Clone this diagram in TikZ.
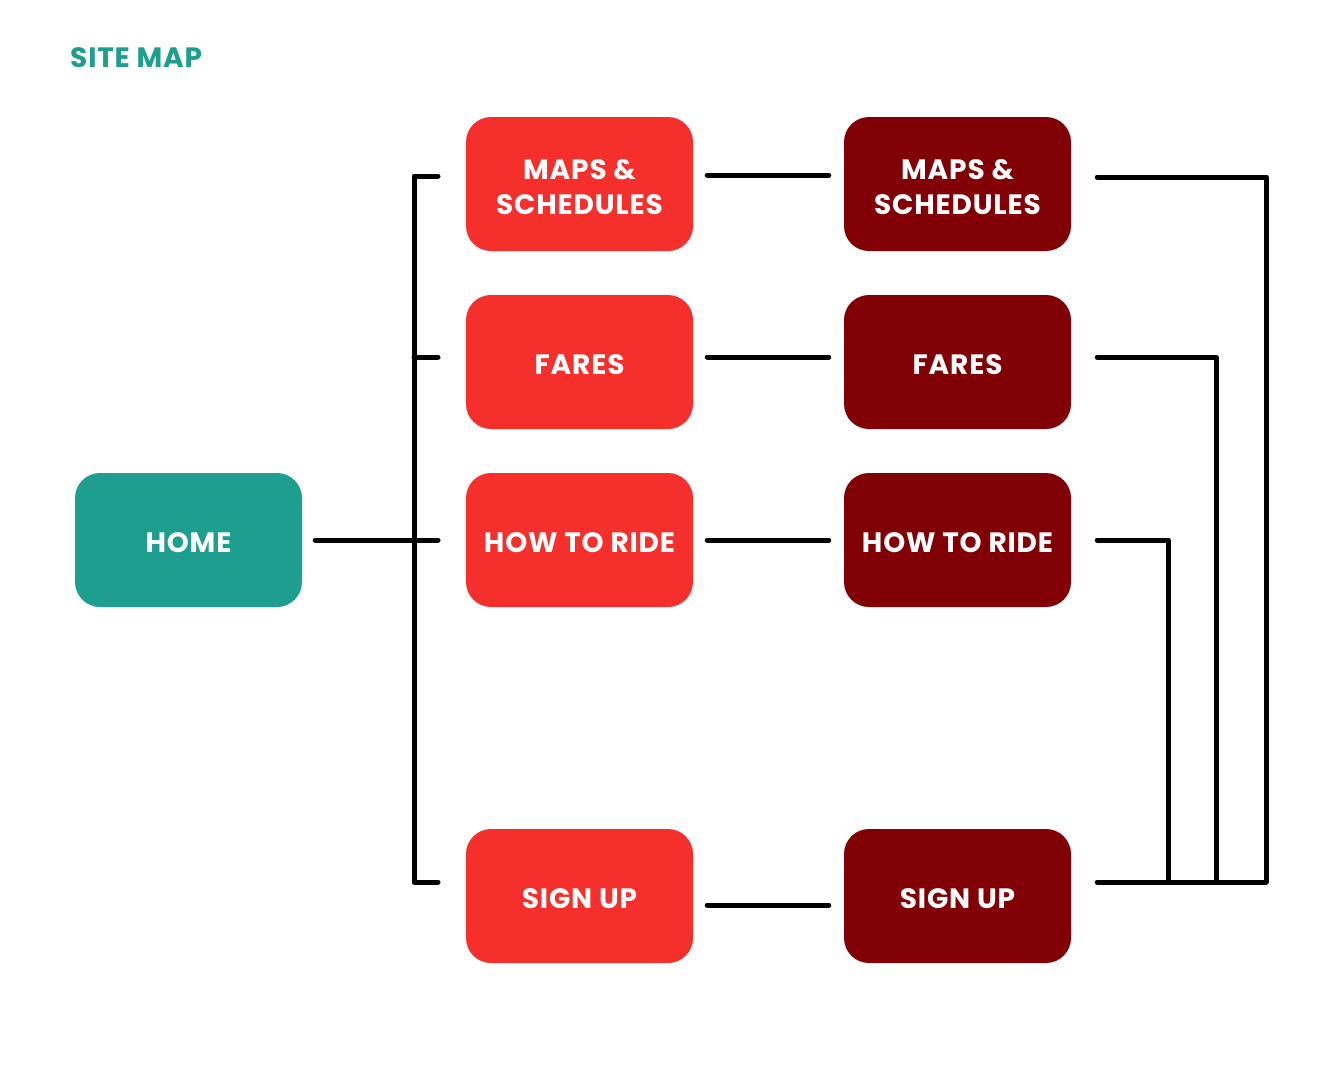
\documentclass[tikz,border=0pt]{standalone}
\usepackage{fontspec}
\setmainfont{Poppins}[LetterSpace=3]
\definecolor{teal1}{HTML}{1E9E8F}
\definecolor{red1}{HTML}{F52F2B}
\definecolor{dred}{HTML}{800006}
\begin{document}
\begin{tikzpicture}[x=1pt,y=-1pt,
  box/.style={rectangle,rounded corners=25pt,minimum width=227pt,minimum height=134pt,inner sep=0pt},
  txt/.style={text=white,font=\bfseries\fontsize{28}{35}\selectfont,align=center,inner sep=0pt,yshift=-3pt},
  first/.style={box,fill=red1},
  second/.style={box,fill=dred},
  conn/.style={line width=5pt,line cap=round,line join=round}]
\useasboundingbox[fill=white] (0,0) rectangle (1339,1080);
\node[anchor=base west,text=teal1,font=\bfseries\fontsize{28}{32}\selectfont,inner sep=0pt] (title) at (70,67) {SITE MAP};
\node[box,fill=teal1,label={[txt]center:HOME}] (home) at (188.5,540) {};
\node[first,label={[txt]center:MAPS \&\\SCHEDULES}] (a1) at (579.5,184) {};
\node[first,label={[txt]center:FARES}] (a2) at (579.5,362) {};
\node[first,label={[txt]center:HOW TO RIDE}] (a3) at (579.5,540) {};
\node[first,label={[txt]center:SIGN UP}] (a4) at (579.5,896) {};
\node[second,label={[txt]center:MAPS \&\\SCHEDULES}] (b1) at (957.5,184) {};
\node[second,label={[txt]center:FARES}] (b2) at (957.5,362) {};
\node[second,label={[txt]center:HOW TO RIDE}] (b3) at (957.5,540) {};
\node[second,label={[txt]center:SIGN UP}] (b4) at (957.5,896) {};
% left bracket
\coordinate (t1) at (438,176);
\coordinate (t2) at (438,357);
\coordinate (t3) at (438,540);
\coordinate (t4) at (438,882);
\coordinate (bx) at (414,0);
\draw[conn] (t1) -- (t1 -| bx) -- (t4 -| bx) -- (t4);
\draw[conn] (t2 -| bx) -- (t2);
\draw[conn] ([xshift=13pt]home.east) -- (t3);
% middle links
\draw[conn] ([xshift=14pt]a1.east |- 0,175) -- ([xshift=-15pt]b1.west |- 0,175);
\draw[conn] ([xshift=14pt]a2.east |- 0,357) -- ([xshift=-15pt]b2.west |- 0,357);
\draw[conn] ([xshift=14pt]a3.east |- 0,540) -- ([xshift=-15pt]b3.west |- 0,540);
\draw[conn] ([xshift=14pt]a4.east |- 0,905) -- ([xshift=-15pt]b4.west |- 0,905);
% right side
\coordinate (r1) at (1266,882);
\coordinate (r2) at (1216,882);
\coordinate (r3) at (1168,882);
\draw[conn] ([xshift=26pt]b1.east |- 0,177) -- (r1 |- 0,177) -- (r1);
\draw[conn] ([xshift=26pt]b2.east |- 0,357) -- (r2 |- 0,357) -- (r2);
\draw[conn] ([xshift=26pt]b3.east |- 0,540) -- (r3 |- 0,540) -- (r3);
\draw[conn] ([xshift=26pt]b4.east |- 0,882) -- (r1);
\end{tikzpicture}
\end{document}
